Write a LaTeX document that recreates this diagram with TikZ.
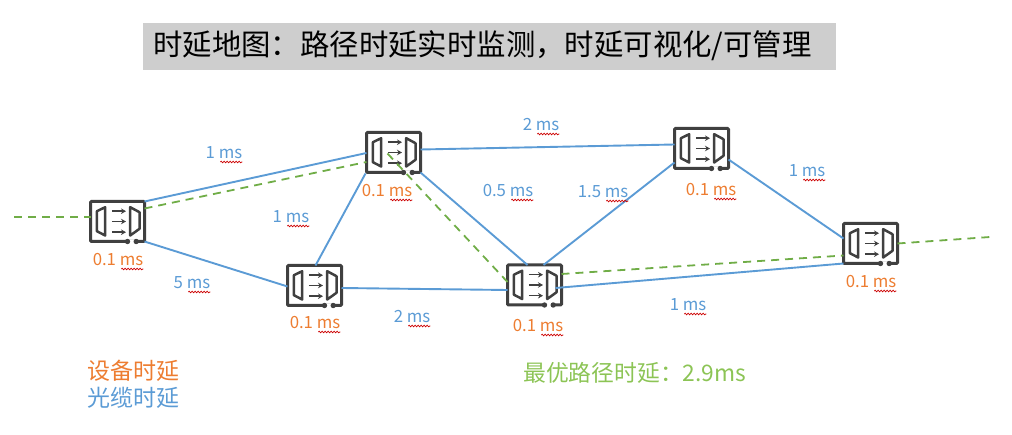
\documentclass[tikz,border=0pt]{standalone}
\usepackage{fontspec}
\setmainfont{Noto Sans CJK SC}
\usetikzlibrary{decorations.pathmorphing,arrows.meta}
\definecolor{rtdark}{HTML}{404040}
\definecolor{fibreblue}{HTML}{5B9BD5}
\definecolor{devorange}{HTML}{ED7D31}
\definecolor{pathgreen}{HTML}{70AD47}
\definecolor{besttext}{HTML}{8CC455}
\definecolor{titlegrey}{HTML}{CECECE}
\tikzset{
  router/.style={draw=rtdark,fill=white,line width=3pt,rounded corners=1pt,inner sep=0pt,outer sep=0pt,minimum width=54pt,minimum height=40pt},
  fibre/.style={draw=fibreblue,line width=1.9pt},
  best/.style={draw=pathgreen,line width=1.8pt,dash pattern=on 8pt off 6pt},
  fibrelbl/.style={text=fibreblue,anchor=base,inner sep=0pt,outer sep=0pt,text depth=0pt,font=\fontsize{16.8}{17}\selectfont},
  devlbl/.style={text=devorange,anchor=base,inner sep=0pt,outer sep=0pt,text depth=0pt,font=\fontsize{16.8}{17}\selectfont},
  legend/.style={anchor=west,inner sep=0pt,font=\fontsize{23}{24}\selectfont},
  squiggle/.style={draw=red!80!black,line width=0.7pt,decorate,decoration={snake,segment length=3pt,amplitude=0.8pt}}
}
\begin{document}
\begin{tikzpicture}[x=1pt,y=-1pt]
\useasboundingbox (0,0) rectangle (1012,435);
\node[fill=titlegrey,minimum width=693pt,minimum height=47pt,inner sep=0pt] (titlebar) at (489.5,46.5) {};
\node[anchor=center,inner sep=0pt,font=\fontsize{29.4}{30}\selectfont] (title) at (482.5,46) {时延地图：路径时延实时监测，时延可视化/可管理};
\node[router] (r1) at (117.5,221.5) {};
\node[router] (r2) at (393.5,152.5) {};
\node[router] (r3) at (314.5,285.5) {};
\node[router] (r4) at (534.5,285) {};
\node[router] (r5) at (701.5,148.5) {};
\node[router] (r6) at (870.5,243.5) {};
\foreach \n in {r1,r2,r3,r4,r5,r6} {
\begin{scope}[shift={(\n.center)}]
\draw[rtdark,line width=2.5pt,line join=round] (-12.3,-14.3)--(-20.6,-10.3)--(-20.6,9.7)--(-12.3,14)--cycle;
\draw[rtdark,line width=2.5pt,line join=round] (12.7,-14.3)--(22,-9.3)--(22,7.3)--(12.7,14)--cycle;
\foreach \h in {-10.3,0,10.7}
  \draw[rtdark,line width=1.5pt,-{Stealth[length=5pt,width=5.5pt]}] (-5.7,\h)--(8.5,\h);
\draw[white,line width=3.8pt] (11,20)--(18,20);
\fill[rtdark] (10,20) circle (2.7pt);
\fill[rtdark] (18.7,20) circle (2.7pt);
\end{scope}
}
\draw[fibre] (r1.north east)--([yshift=-0.5pt]r2.west);
\draw[fibre] ([yshift=-20pt]r1.east)--([yshift=-1pt]r3.west);
\draw[fibre] ([xshift=1pt]r3.north)--([xshift=-28pt,yshift=-1pt]r2.south);
\draw[fibre] ([yshift=-2.5pt]r3.east)--([yshift=-5pt]r4.west);
\draw[fibre] ([yshift=3pt]r2.east)--([yshift=4pt]r5.west);
\draw[fibre] (r2.south east)--([xshift=-7pt]r4.north);
\draw[fibre] ([xshift=9pt]r4.north)--([yshift=-14pt]r5.west);
\draw[fibre] ([yshift=-11pt]r5.east)--([yshift=5pt]r6.west);
\draw[fibre] ([xshift=21pt,yshift=-3pt]r4.center)--([yshift=-20pt]r6.west);
\coordinate (inlet) at (14,217);
\coordinate (outlet) at (990,237);
\draw[best] (inlet)--([yshift=4.5pt]r1.west);
\draw[best] ([yshift=13pt]r1.east)--([yshift=-9.5pt]r2.west);
\draw[best] ([xshift=-6pt,yshift=-1pt]r2.center)--([yshift=3pt]r4.west);
\draw[best] ([yshift=11pt]r4.east)--([yshift=-12pt]r6.west);
\draw[best] (r6.east)--(outlet);
\node[fibrelbl] (f12) at (224,159) {1 ms};
\node[fibrelbl] (f23) at (291,223) {1 ms};
\node[fibrelbl] (f13) at (192,289) {5 ms};
\node[fibrelbl] (f25) at (541,131) {2 ms};
\node[fibrelbl] (f24) at (508,197) {0.5 ms};
\node[fibrelbl] (f45) at (603,198) {1.5 ms};
\node[fibrelbl] (f56) at (807,177) {1 ms};
\node[fibrelbl] (f34) at (412,323) {2 ms};
\node[fibrelbl] (f46) at (688,311) {1 ms};
\node[devlbl] (d1) at (118,266) {0.1 ms};
\node[devlbl] (d2) at (387,197) {0.1 ms};
\node[devlbl] (d3) at (315,329) {0.1 ms};
\node[devlbl] (d4) at (538,332) {0.1 ms};
\node[devlbl] (d5) at (711,196) {0.1 ms};
\node[devlbl] (d6) at (871,288) {0.1 ms};
\foreach \n in {f12,f23,f13,f25,f24,f45,f56,f34,f46,d1,d2,d3,d4,d5,d6}
  \draw[squiggle] ([xshift=-22pt,yshift=-3pt]\n.south east)--([yshift=-3pt]\n.south east);
\node[legend,text=devorange] (devkey) at (87,371) {设备时延};
\node[legend,text=fibreblue] (fibrekey) at (87,398) {光缆时延};
\node[legend,text=besttext,font=\fontsize{22.8}{24}\selectfont] (bestkey) at (523,373) {最优路径时延：2.9ms};
\end{tikzpicture}
\end{document}
